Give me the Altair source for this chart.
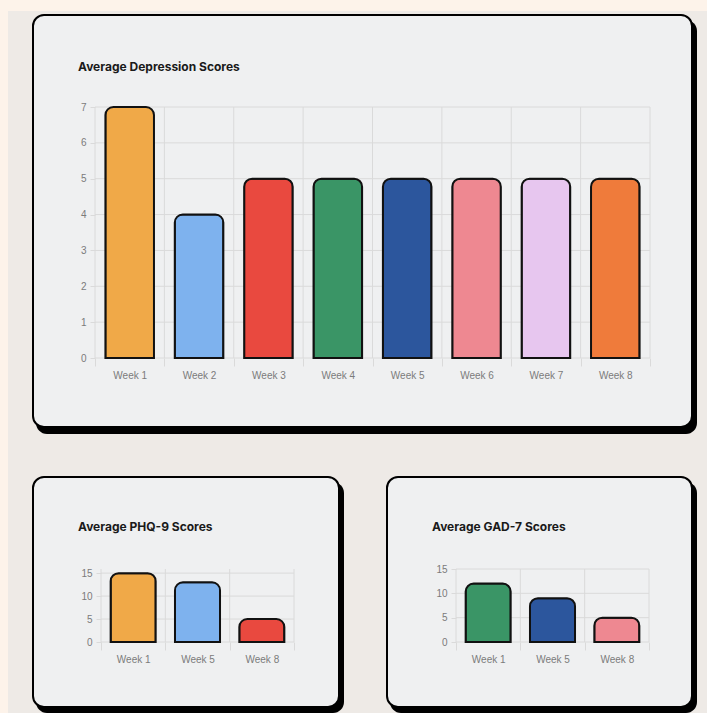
import altair as alt
import pandas as pd

# ---------------- data ----------------
weeks = ["Week 1", "Week 2", "Week 3", "Week 4", "Week 5", "Week 6", "Week 7", "Week 8"]
depression_scores = [7, 4, 5, 5, 5, 5, 5, 5]
depression_colors = ["#f0a948", "#7eb2ee", "#e9493f", "#3a9566",
                     "#2c569d", "#ee8891", "#e7c6ef", "#ef7b3b"]
depression_ticks = [0, 1, 2, 3, 4, 5, 6, 7]

phq_weeks = ["Week 1", "Week 5", "Week 8"]
phq_scores = [15, 13, 5]
phq_colors = ["#f0a948", "#7eb2ee", "#e9493f"]

gad_weeks = ["Week 1", "Week 5", "Week 8"]
gad_scores = [12, 9, 5]
gad_colors = ["#3a9566", "#2c569d", "#ee8891"]

small_ticks = [0, 5, 10, 15]

title_dep = "Average Depression Scores"
title_phq = "Average PHQ-9 Scores"
title_gad = "Average GAD-7 Scores"

# ---------------- styles ----------------
PEACH = "#fdf3ea"
GRAY_BG = "#eeeae6"
CARD = "#eff0f1"
GRID = "#dadada"
LABEL = "#7b7b7b"
W, H = 707, 713

one = pd.DataFrame({"k": [0]})


def rect(x, x2, y, y2, fill, radius=0, stroke=None):
    kw = dict(fill=fill, strokeWidth=0)
    if radius:
        kw["cornerRadius"] = radius
    if stroke:
        kw["stroke"] = stroke
        kw["strokeWidth"] = 2
    return alt.Chart(one).mark_rect(**kw).encode(
        x=alt.value(x), x2=alt.value(x2), y=alt.value(y), y2=alt.value(y2)
    )


def panel(cats, scores, colors, ticks, ymax, plot_x0, plot_x1, height, ox, oy,
          tiles, card, title, title_xy):
    """ox, oy = page position of the group origin; plot spans plot_x0..plot_x1 (page)."""
    px0 = plot_x0 - ox
    px1 = plot_x1 - ox
    layers = []
    for (x0, x1, y0, y1, c) in tiles:
        layers.append(rect(x0 - ox, x1 - ox, y0 - oy, y1 - oy, c))
    cx0, cx1, cy0, cy1 = card
    # shadow
    layers.append(rect(cx0 + 4 - ox, min(cx1 + 4, W) - ox,
                       cy0 + 6 - oy, min(cy1 + 6, H) - oy, "#000000", radius=11))
    # card
    layers.append(rect(cx0 + 1 - ox, cx1 - 1 - ox, cy0 + 1 - oy, cy1 - 1 - oy,
                       CARD, radius=11, stroke="#000000"))
    # title
    layers.append(
        alt.Chart(pd.DataFrame({"t": [title]})).mark_text(
            align="left", baseline="alphabetic", font="Inter",
            fontWeight="bold", fontSize=12, color="#1a1a1a"
        ).encode(text="t:N", x=alt.value(title_xy[0] - ox), y=alt.value(title_xy[1] - oy))
    )

    xscale = alt.Scale(domain=cats, paddingInner=0, paddingOuter=0, range=[px0, px1])
    yscale = alt.Scale(domain=[0, ymax], nice=False)
    xaxis = alt.Axis(title=None, labelAngle=0, tickBand="extent", tickSize=8,
                     tickColor=GRID, labelPadding=4, domain=False, grid=False,
                     labelFont="Liberation Sans", labelFontSize=10,
                     labelColor=LABEL, zindex=1)
    yaxis = alt.Axis(title=None, values=ticks, tickSize=5, tickColor=GRID,
                     labelPadding=4, domain=False, grid=False, offset=-px0,
                     labelFont="Liberation Sans", labelFontSize=10,
                     labelColor=LABEL, zindex=1)

    # gridlines
    layers.append(
        alt.Chart(pd.DataFrame({"v": ticks})).mark_rule(color=GRID, strokeWidth=1).encode(
            y=alt.Y("v:Q", scale=yscale, axis=yaxis),
            x=alt.value(px0), x2=alt.value(px1)
        )
    )
    layers.append(
        alt.Chart(pd.DataFrame({"week": cats})).mark_rule(color=GRID, strokeWidth=1).encode(
            x=alt.X("week:N", bandPosition=0, sort=cats, scale=xscale, axis=xaxis),
            y=alt.value(0), y2=alt.value(height)
        )
    )
    layers.append(
        alt.Chart(one).mark_rule(color=GRID, strokeWidth=1).encode(
            x=alt.value(px1), y=alt.value(0), y2=alt.value(height)
        )
    )
    # bars
    df = pd.DataFrame({"week": cats, "score": scores})
    layers.append(
        alt.Chart(df).mark_bar(
            width=alt.RelativeBandSize(0.7), cornerRadiusTopLeft=8,
            cornerRadiusTopRight=8, stroke="#111111", strokeWidth=2
        ).encode(
            x=alt.X("week:N", sort=cats, scale=xscale, axis=xaxis),
            y=alt.Y("score:Q", scale=yscale, axis=yaxis),
            color=alt.Color("week:N", scale=alt.Scale(domain=cats, range=colors), legend=None),
        )
    )
    return alt.layer(*layers).properties(width=px1, height=height)


SPLIT_Y = 452
SPLIT_X = 363

# group origins: all vconcat rows share x origin at page 101
top = panel(
    weeks, depression_scores, depression_colors, depression_ticks, 7,
    95, 650, 251, 101, 107,
    [(0, W, 0, SPLIT_Y, PEACH), (8, W, 11, SPLIT_Y, GRAY_BG)],
    (32, 693, 14, 428), title_dep, (78, 71),
)
left = panel(
    phq_weeks, phq_scores, phq_colors, small_ticks, 15.9,
    101, 294, 73, 101, 569,
    [(0, SPLIT_X, SPLIT_Y, H, PEACH), (8, SPLIT_X, SPLIT_Y, H, GRAY_BG)],
    (32, 340, 476, 708), title_phq, (78, 531),
)
right = panel(
    gad_weeks, gad_scores, gad_colors, small_ticks, 15,
    456, 649, 73, 456, 569,
    [(SPLIT_X, W, SPLIT_Y, H, GRAY_BG)],
    (386, 693, 476, 708), title_gad, (432, 531),
)

bottom = alt.hconcat(left, right, spacing=0, bounds="full").resolve_scale(
    x="independent", y="independent", color="independent"
)
chart = alt.vconcat(top, bottom, spacing=0, bounds="full").resolve_scale(
    x="independent", y="independent", color="independent"
).properties(padding=0, background=PEACH).configure_view(strokeWidth=0)

chart.save("out.html", embed_options={"renderer": "svg", "actions": False})
